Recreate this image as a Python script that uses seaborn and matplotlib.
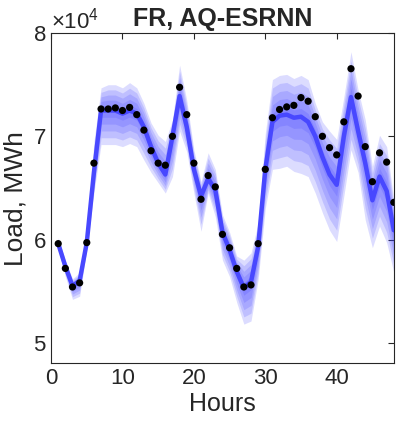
import numpy as np
import pandas as pd
import seaborn as sns
import matplotlib as mpl
mpl.use('Agg')
import matplotlib.pyplot as plt

# hourly values, in units of 1e4 MWh
hours = list(range(1, 49))

actual = [5.96, 5.72, 5.54, 5.58, 5.97, 6.74, 7.265, 7.265, 7.275, 7.25,
          7.28, 7.21, 7.06, 6.86, 6.74, 6.72, 7.00, 7.475, 7.21, 6.74,
          6.39, 6.62, 6.51, 6.05, 5.92, 5.72, 5.54, 5.56, 5.96, 6.68,
          7.18, 7.26, 7.285, 7.30, 7.375, 7.34, 7.19, 7.00, 6.89, 6.82,
          7.14, 7.655, 7.39, 6.90, 6.56, 6.84, 6.75, 6.36]

median = [5.96, 5.74, 5.55, 5.60, 5.97, 6.65, 7.25, 7.25, 7.25, 7.22,
          7.25, 7.22, 7.09, 6.90, 6.74, 6.63, 7.00, 7.39, 7.09, 6.68,
          6.42, 6.59, 6.48, 6.07, 5.90, 5.69, 5.53, 5.59, 5.93, 6.68,
          7.14, 7.20, 7.21, 7.18, 7.19, 7.14, 7.00, 6.80, 6.63, 6.53,
          7.00, 7.38, 7.05, 6.74, 6.38, 6.61, 6.47, 6.09]

upper = [6.02, 5.80, 5.62, 5.68, 6.04, 6.95, 7.47, 7.50, 7.50, 7.47,
         7.52, 7.47, 7.32, 7.13, 7.01, 6.95, 7.16, 7.69, 7.35, 6.87,
         6.56, 6.84, 6.68, 6.24, 6.07, 5.84, 5.80, 5.87, 6.16, 7.03,
         7.55, 7.59, 7.60, 7.56, 7.59, 7.55, 7.32, 7.14, 7.05, 6.97,
         7.38, 7.82, 7.45, 7.16, 6.71, 7.01, 6.90, 6.38]

lower = [5.90, 5.64, 5.42, 5.45, 5.90, 6.45, 6.92, 6.92, 6.92, 6.90,
         6.93, 6.90, 6.77, 6.65, 6.55, 6.45, 6.61, 7.05, 6.85, 6.45,
         6.08, 6.45, 6.22, 5.80, 5.64, 5.39, 5.18, 5.21, 5.61, 6.30,
         6.68, 6.69, 6.71, 6.66, 6.64, 6.61, 6.45, 6.26, 6.09, 5.98,
         6.42, 6.87, 6.65, 6.19, 5.92, 6.13, 5.97, 5.68]

band_levels = [1.0, 0.8, 0.6, 0.4, 0.2]

scale = 1e4
df = pd.DataFrame({'Hours': hours,
                   'actual': np.array(actual) * scale,
                   'median': np.array(median) * scale,
                   'upper': np.array(upper) * scale,
                   'lower': np.array(lower) * scale})

sns.set_style('white')
plt.rcParams['font.family'] = ['Liberation Sans', 'DejaVu Sans']
plt.rcParams['mathtext.fontset'] = 'custom'
plt.rcParams['mathtext.rm'] = 'Liberation Sans'

fig = plt.figure(figsize=(3.99, 4.30), dpi=100)
ax = fig.add_axes([0.128, 0.155, 0.859, 0.768])

band_color = (0.25, 0.25, 1.0)
for f in band_levels:
    lo = df['median'] - f * (df['median'] - df['lower'])
    hi = df['median'] + f * (df['upper'] - df['median'])
    ax.fill_between(df['Hours'], lo, hi, color=band_color, alpha=0.18, lw=0)

sns.lineplot(data=df, x='Hours', y='median', ax=ax, color='#4848ff', lw=3.2)
sns.scatterplot(data=df, x='Hours', y='actual', ax=ax, color='black',
                s=27, edgecolor='none', zorder=5)

ax.set_xlim(0, 48)
ax.set_ylim(4.8e4, 8e4)
ax.set_xticks([0, 10, 20, 30, 40])
ax.set_yticks([5e4, 6e4, 7e4, 8e4])
ax.ticklabel_format(style='sci', axis='y', scilimits=(4, 4), useMathText=True)
ax.yaxis.get_offset_text().set_fontsize(16)

ax.tick_params(direction='in', length=4, width=0.8, colors='#262626',
               labelsize=16, top=True, right=True, labelcolor='#262626')
for s in ax.spines.values():
    s.set_color('#262626')
    s.set_linewidth(0.8)

ax.set_xlabel('Hours', fontsize=18, color='#262626', labelpad=2)
ax.set_ylabel('Load, MWh', fontsize=19, color='#262626', labelpad=4)
ax.set_title('FR, AQ-ESRNN', fontsize=18, fontweight='bold', pad=5)

fig.savefig('out.png', dpi=100)
